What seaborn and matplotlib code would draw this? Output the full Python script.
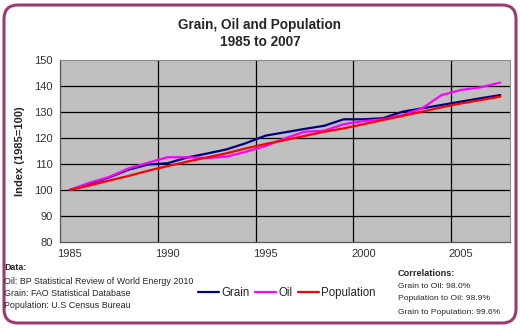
import numpy as np
import pandas as pd
import matplotlib
matplotlib.use("Agg")
import matplotlib.pyplot as plt
import seaborn as sns
from matplotlib.patches import FancyBboxPatch
from matplotlib.transforms import IdentityTransform
from matplotlib.lines import Line2D

years = list(range(1985, 2008))
grain = [100, 102.3, 104.8, 107.8, 109.8, 110.3, 112.5, 114.0, 115.6, 118.0, 120.9,
         122.2, 123.5, 124.7, 127.2, 127.2, 127.6, 130.1, 131.4, 132.7, 134.0, 135.3, 136.5]
oil = [100, 102.8, 105.0, 108.3, 110.5, 112.6, 112.6, 112.3, 112.8, 114.7, 116.9,
       119.9, 122.4, 122.8, 125.3, 126.5, 127.2, 128.8, 131.4, 136.5, 138.5, 139.5, 141.3]
population = [100, 101.7, 103.6, 105.4, 107.4, 109.2, 110.9, 112.5, 114.1, 116.0, 117.7,
              119.2, 120.8, 122.4, 123.7, 125.3, 126.9, 128.5, 130.1, 131.8, 133.3, 134.6, 135.9]
series_names = ["Grain", "Oil", "Population"]
colors = ["#000080", "#FF00FF", "#FF0000"]
y_ticks = [80, 90, 100, 110, 120, 130, 140, 150]
x_labels = [1985, 1990, 1995, 2000, 2005]

df = pd.DataFrame({
    "Year": years * 3,
    "Index": grain + oil + population,
    "Series": sum([[n] * len(years) for n in series_names], []),
})

sns.set_style("white")
plt.rcParams["font.family"] = ["Liberation Sans", "DejaVu Sans"]

fig = plt.figure(figsize=(5.2, 3.28), dpi=100)
fig.patch.set_facecolor("white")
ax = fig.add_axes([60 / 520, 1 - 242 / 328, 450 / 520, 182 / 328])
ax.set_facecolor("#C0C0C0")

sns.lineplot(data=df, x="Year", y="Index", hue="Series", hue_order=series_names,
             palette=colors, linewidth=1.6, ax=ax, legend=False)

ax.set_xlim(1984.5, 2007.5)
ax.set_ylim(80, 150)
ax.set_yticks(y_ticks)
ax.set_yticklabels([str(v) for v in y_ticks], fontsize=8, color="#333333")
ax.set_xticks(x_labels)
ax.set_xticklabels([str(v) for v in x_labels], fontsize=8, color="#333333")
ax.tick_params(axis="x", length=0, pad=5)
ax.tick_params(axis="y", length=3, width=0.8, color="#555555", pad=2, direction="out")
ax.set_xticks([1984.5 + 5 * k for k in range(1, 5)], minor=True)
ax.tick_params(axis="x", which="minor", length=4, width=0.8, color="#333333", direction="out")

# gridlines
ax.grid(False)
for v in y_ticks[1:-1]:
    ax.axhline(v, color="black", lw=0.9, zorder=1)
for v in [1989.5, 1994.5, 1999.5, 2004.5]:
    ax.axvline(v, color="black", lw=0.9, zorder=1)

for s in ["top", "right"]:
    ax.spines[s].set_color("#8a8a8a")
    ax.spines[s].set_linewidth(0.8)
for s in ["left", "bottom"]:
    ax.spines[s].set_color("#555555")
    ax.spines[s].set_linewidth(0.9)

ax.set_xlabel("")
ax.set_ylabel("Index (1985=100)", fontsize=8, fontweight="bold", labelpad=7)

fig.text(0.5, 1 - 25 / 328, "Grain, Oil and Population", ha="center", va="center",
         fontsize=9.8, fontweight="bold")
fig.text(0.5, 1 - 42 / 328, "1985 to 2007", ha="center", va="center",
         fontsize=9.8, fontweight="bold")

# legend
handles = [Line2D([0], [0], color=c, lw=1.6) for c in colors]
fig.legend(handles, series_names, loc="center", bbox_to_anchor=(287 / 520, 1 - 293 / 328),
           ncol=3, frameon=False, fontsize=8.3, handlelength=1.8, handletextpad=0.2,
           columnspacing=0.5)

# footnotes
fs = 6.4
fig.text(4 / 520, 1 - 268 / 328, "Data:", fontsize=fs, fontweight="bold", va="center")
fig.text(4 / 520, 1 - 281 / 328, "Oil: BP Statistical Review of World Energy 2010", fontsize=fs, va="center")
fig.text(4 / 520, 1 - 293 / 328, "Grain: FAO Statistical Database", fontsize=fs, va="center")
fig.text(4 / 520, 1 - 306 / 328, "Population: U.S Census Bureau", fontsize=fs, va="center")

fig.text(398 / 520, 1 - 274 / 328, "Correlations:", fontsize=6.6, fontweight="bold", va="center")
fig.text(398 / 520, 1 - 287 / 328, "Grain to Oil: 98.0%", fontsize=6.1, va="center")
fig.text(398 / 520, 1 - 299 / 328, "Population to Oil: 98.9%", fontsize=6.1, va="center")
fig.text(398 / 520, 1 - 312 / 328, "Grain to Population: 99.6%", fontsize=6.1, va="center")

# rounded border
border = FancyBboxPatch((4, 5), 512, 318, boxstyle="round,pad=0,rounding_size=14",
                        transform=IdentityTransform(), facecolor="none",
                        edgecolor="#9B3B70", linewidth=2.2)
fig.add_artist(border)

fig.savefig("out.png", dpi=100, facecolor="white")
